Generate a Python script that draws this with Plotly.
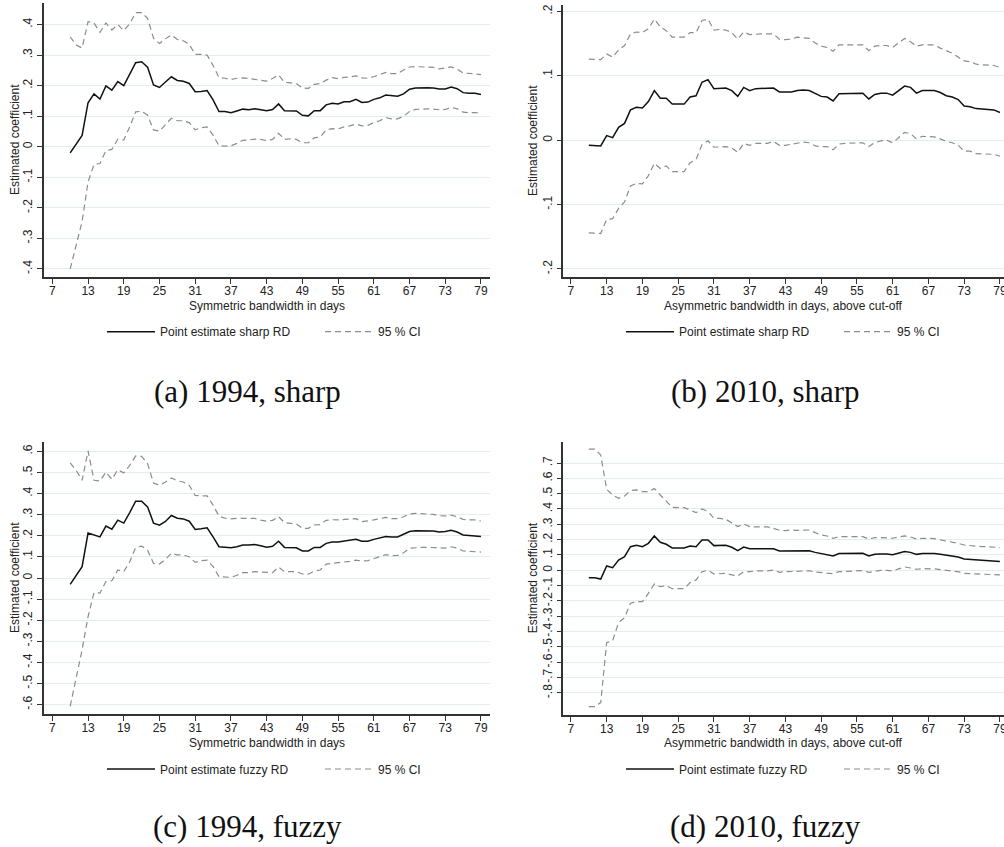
import plotly.graph_objects as go

# ---------------- data ----------------
BANDWIDTH = list(range(10, 80))  # 10 ... 79 days

A_POINT = [-0.020, 0.009, 0.037, 0.144, 0.173, 0.156, 0.199, 0.185, 0.213, 0.200,
           0.236, 0.275, 0.278, 0.260, 0.202, 0.194, 0.212, 0.229, 0.217, 0.214,
           0.207, 0.180, 0.181, 0.184, 0.153, 0.115, 0.115, 0.111, 0.117, 0.123,
           0.121, 0.124, 0.121, 0.118, 0.122, 0.140, 0.118, 0.117, 0.117, 0.103,
           0.101, 0.118, 0.118, 0.137, 0.142, 0.140, 0.147, 0.147, 0.155, 0.145,
           0.146, 0.155, 0.160, 0.169, 0.166, 0.165, 0.173, 0.188, 0.192, 0.193,
           0.193, 0.192, 0.189, 0.189, 0.195, 0.190, 0.177, 0.175, 0.175, 0.171]
A_UPPER = [0.360, 0.333, 0.323, 0.409, 0.405, 0.374, 0.405, 0.382, 0.400, 0.380,
           0.402, 0.439, 0.439, 0.420, 0.355, 0.338, 0.353, 0.366, 0.351, 0.347,
           0.335, 0.302, 0.302, 0.300, 0.266, 0.226, 0.224, 0.220, 0.224, 0.225,
           0.223, 0.221, 0.218, 0.215, 0.223, 0.235, 0.211, 0.208, 0.207, 0.192,
           0.191, 0.204, 0.207, 0.218, 0.226, 0.223, 0.227, 0.228, 0.232, 0.225,
           0.224, 0.229, 0.235, 0.243, 0.239, 0.239, 0.251, 0.261, 0.262, 0.262,
           0.261, 0.260, 0.255, 0.258, 0.261, 0.254, 0.241, 0.240, 0.239, 0.236]
A_LOWER = [-0.400, -0.320, -0.245, -0.115, -0.058, -0.055, -0.013, -0.009, 0.025, 0.022,
           0.065, 0.114, 0.116, 0.103, 0.055, 0.051, 0.071, 0.093, 0.085, 0.085,
           0.079, 0.055, 0.062, 0.065, 0.038, 0.003, 0.002, 0.003, 0.011, 0.021,
           0.022, 0.025, 0.024, 0.020, 0.024, 0.044, 0.024, 0.026, 0.024, 0.013,
           0.013, 0.029, 0.032, 0.055, 0.059, 0.058, 0.065, 0.068, 0.074, 0.068,
           0.070, 0.079, 0.085, 0.095, 0.091, 0.091, 0.100, 0.115, 0.122, 0.124,
           0.124, 0.123, 0.121, 0.122, 0.129, 0.124, 0.113, 0.111, 0.112, 0.109]

B_POINT = [-0.008, -0.008, -0.009, 0.007, 0.004, 0.020, 0.026, 0.047, 0.051, 0.050,
           0.060, 0.077, 0.065, 0.065, 0.056, 0.056, 0.056, 0.067, 0.069, 0.090,
           0.094, 0.080, 0.080, 0.081, 0.077, 0.068, 0.082, 0.077, 0.080, 0.080,
           0.080, 0.081, 0.075, 0.075, 0.075, 0.077, 0.078, 0.077, 0.072, 0.068,
           0.067, 0.061, 0.072, 0.072, 0.072, 0.072, 0.073, 0.064, 0.071, 0.073,
           0.073, 0.070, 0.077, 0.084, 0.082, 0.073, 0.077, 0.077, 0.077, 0.074,
           0.069, 0.067, 0.063, 0.053, 0.052, 0.049, 0.048, 0.048, 0.047, 0.043]
B_UPPER = [0.126, 0.126, 0.125, 0.134, 0.129, 0.140, 0.147, 0.165, 0.168, 0.167,
           0.173, 0.188, 0.176, 0.170, 0.160, 0.160, 0.160, 0.167, 0.167, 0.186,
           0.188, 0.171, 0.172, 0.171, 0.167, 0.157, 0.168, 0.164, 0.165, 0.165,
           0.165, 0.165, 0.157, 0.156, 0.157, 0.160, 0.159, 0.158, 0.151, 0.146,
           0.144, 0.138, 0.148, 0.148, 0.148, 0.148, 0.148, 0.139, 0.146, 0.147,
           0.147, 0.144, 0.151, 0.158, 0.153, 0.146, 0.148, 0.148, 0.148, 0.143,
           0.139, 0.135, 0.129, 0.123, 0.122, 0.118, 0.117, 0.117, 0.116, 0.113]
B_LOWER = [-0.144, -0.144, -0.145, -0.123, -0.122, -0.106, -0.096, -0.071, -0.067, -0.068,
           -0.055, -0.036, -0.044, -0.040, -0.049, -0.049, -0.049, -0.035, -0.030, -0.007,
           -0.001, -0.011, -0.011, -0.010, -0.012, -0.019, -0.005, -0.008, -0.005, -0.005,
           -0.005, -0.002, -0.008, -0.008, -0.006, -0.004, -0.003, -0.004, -0.009, -0.010,
           -0.010, -0.015, -0.006, -0.005, -0.005, -0.005, -0.004, -0.010, -0.004, -0.001,
           0.000, -0.004, 0.004, 0.012, 0.010, 0.002, 0.006, 0.006, 0.005, 0.002,
           -0.002, -0.004, -0.008, -0.017, -0.017, -0.021, -0.021, -0.021, -0.022, -0.025]

C_POINT = [-0.030, 0.011, 0.054, 0.213, 0.203, 0.195, 0.246, 0.231, 0.274, 0.260,
           0.310, 0.364, 0.364, 0.337, 0.260, 0.250, 0.268, 0.296, 0.283, 0.280,
           0.269, 0.230, 0.233, 0.238, 0.195, 0.148, 0.146, 0.143, 0.148, 0.156,
           0.156, 0.159, 0.153, 0.146, 0.150, 0.174, 0.145, 0.144, 0.143, 0.128,
           0.128, 0.145, 0.145, 0.164, 0.170, 0.170, 0.174, 0.177, 0.183, 0.174,
           0.174, 0.183, 0.191, 0.197, 0.194, 0.194, 0.207, 0.220, 0.224, 0.224,
           0.224, 0.223, 0.218, 0.220, 0.226, 0.218, 0.204, 0.201, 0.201, 0.197]
C_UPPER = [0.545, 0.510, 0.463, 0.602, 0.463, 0.460, 0.501, 0.468, 0.513, 0.498,
           0.534, 0.578, 0.576, 0.542, 0.450, 0.439, 0.455, 0.474, 0.460, 0.455,
           0.439, 0.391, 0.389, 0.389, 0.345, 0.293, 0.283, 0.280, 0.283, 0.283,
           0.282, 0.282, 0.274, 0.269, 0.273, 0.291, 0.262, 0.259, 0.256, 0.235,
           0.235, 0.251, 0.253, 0.273, 0.276, 0.275, 0.276, 0.278, 0.281, 0.267,
           0.270, 0.275, 0.281, 0.287, 0.281, 0.281, 0.290, 0.303, 0.306, 0.306,
           0.303, 0.301, 0.295, 0.294, 0.298, 0.290, 0.278, 0.275, 0.275, 0.270]
C_LOWER = [-0.608, -0.474, -0.340, -0.183, -0.069, -0.072, -0.017, -0.013, 0.038, 0.030,
           0.077, 0.145, 0.151, 0.132, 0.069, 0.066, 0.088, 0.117, 0.110, 0.109,
           0.101, 0.074, 0.082, 0.085, 0.054, 0.006, 0.003, 0.003, 0.013, 0.025,
           0.025, 0.030, 0.028, 0.025, 0.025, 0.052, 0.030, 0.030, 0.030, 0.019,
           0.018, 0.033, 0.038, 0.066, 0.069, 0.073, 0.077, 0.079, 0.085, 0.080,
           0.082, 0.090, 0.101, 0.111, 0.106, 0.107, 0.120, 0.141, 0.144, 0.145,
           0.145, 0.144, 0.141, 0.142, 0.148, 0.142, 0.128, 0.126, 0.126, 0.123]

D_POINT = [-0.048, -0.048, -0.057, 0.028, 0.017, 0.067, 0.089, 0.154, 0.163, 0.154,
           0.176, 0.224, 0.183, 0.170, 0.146, 0.146, 0.146, 0.159, 0.154, 0.198,
           0.198, 0.161, 0.161, 0.163, 0.150, 0.128, 0.152, 0.141, 0.141, 0.141,
           0.141, 0.141, 0.126, 0.126, 0.126, 0.128, 0.130, 0.128, 0.117, 0.109,
           0.104, 0.093, 0.109, 0.109, 0.109, 0.109, 0.111, 0.093, 0.104, 0.107,
           0.107, 0.102, 0.113, 0.122, 0.117, 0.104, 0.109, 0.109, 0.109, 0.104,
           0.098, 0.093, 0.087, 0.074, 0.072, 0.067, 0.065, 0.065, 0.063, 0.057]
D_UPPER = [0.791, 0.791, 0.752, 0.528, 0.491, 0.470, 0.485, 0.520, 0.524, 0.513,
           0.513, 0.533, 0.491, 0.448, 0.411, 0.409, 0.409, 0.393, 0.376, 0.400,
           0.385, 0.339, 0.339, 0.333, 0.307, 0.285, 0.302, 0.285, 0.283, 0.283,
           0.283, 0.274, 0.261, 0.259, 0.263, 0.261, 0.263, 0.263, 0.246, 0.230,
           0.224, 0.209, 0.220, 0.220, 0.220, 0.220, 0.220, 0.204, 0.213, 0.213,
           0.213, 0.209, 0.217, 0.224, 0.217, 0.204, 0.209, 0.209, 0.207, 0.198,
           0.191, 0.185, 0.176, 0.165, 0.161, 0.157, 0.154, 0.154, 0.152, 0.148]
D_LOWER = [-0.889, -0.889, -0.863, -0.472, -0.459, -0.341, -0.309, -0.215, -0.204, -0.204,
           -0.150, -0.089, -0.107, -0.100, -0.120, -0.120, -0.120, -0.080, -0.063, -0.009,
           0.000, -0.024, -0.020, -0.020, -0.030, -0.037, -0.009, -0.009, -0.004, -0.004,
           -0.004, 0.002, -0.013, -0.009, -0.009, -0.007, -0.004, -0.004, -0.011, -0.015,
           -0.017, -0.022, -0.009, -0.007, -0.007, -0.004, -0.002, -0.013, -0.004, 0.000,
           0.000, -0.004, 0.009, 0.022, 0.015, 0.007, 0.011, 0.011, 0.009, 0.004,
           0.000, -0.002, -0.009, -0.020, -0.022, -0.024, -0.024, -0.024, -0.026, -0.030]

X_TICKS = [7, 13, 19, 25, 31, 37, 43, 49, 55, 61, 67, 73, 79]
A_YTICKS = [-0.4, -0.3, -0.2, -0.1, 0.0, 0.1, 0.2, 0.3, 0.4]
B_YTICKS = [-0.2, -0.1, 0.0, 0.1, 0.2]
C_YTICKS = [-0.6, -0.5, -0.4, -0.3, -0.2, -0.1, 0.0, 0.1, 0.2, 0.3, 0.4, 0.5, 0.6]
D_YTICKS = [-0.8, -0.7, -0.6, -0.5, -0.4, -0.3, -0.2, -0.1, 0.0,
            0.1, 0.2, 0.3, 0.4, 0.5, 0.6, 0.7]

X_TITLES = ["Symmetric bandwidth in days",
            "Asymmetric bandwidth in days, above cut-off",
            "Symmetric bandwidth in days",
            "Asymmetric bandwidth in days, above cut-off"]
POINT_NAMES = ["Point estimate sharp RD", "Point estimate sharp RD",
               "Point estimate fuzzy RD", "Point estimate fuzzy RD"]
CI_NAME = "95 % CI"
CAPTIONS = ["(a) 1994, sharp", "(b) 2010, sharp", "(c) 1994, fuzzy", "(d) 2010, fuzzy"]
Y_TITLE = "Estimated coefficient"

# ---------------- layout geometry (pixels) ----------------
W, H = 1004, 847
SANS = "Liberation Sans, Arial, Helvetica, sans-serif"
SERIF = "Liberation Serif, Times New Roman, serif"


def fmt(v):
    s = f"{v:.1f}"
    if s in ("0.0", "-0.0"):
        return "0"
    return s.replace("0.", ".")


def px_x(p):
    return p / W


def px_y(p):
    return 1 - p / H


panels = [
    dict(point=A_POINT, up=A_UPPER, lo=A_LOWER, yt=A_YTICKS,
         xpx=(44, 490), ypx=(3, 277), xr=(5.60, 80.52), yr=(-0.4265, 0.4704),
         legy=331.7, legx=102, capx=247, capy=391.7, titley=305.5, ytitlex=15),
    dict(point=B_POINT, up=B_UPPER, lo=B_LOWER, yt=B_YTICKS,
         xpx=(563.3, 1004), ypx=(4.7, 277.3), xr=(5.72, 79.69), yr=(-0.2130, 0.2104),
         legy=331.7, legx=621, capx=765, capy=391.7, titley=305.5, ytitlex=533),
    dict(point=C_POINT, up=C_UPPER, lo=C_LOWER, yt=C_YTICKS,
         xpx=(44, 490), ypx=(441.7, 714.3), xr=(5.60, 80.52), yr=(-0.6457, 0.6457),
         legy=769, legx=102, capx=247, capy=826.7, titley=743, ytitlex=15),
    dict(point=D_POINT, up=D_UPPER, lo=D_LOWER, yt=D_YTICKS,
         xpx=(563.3, 1004), ypx=(441.7, 715), xr=(5.72, 79.69), yr=(-0.944, 0.839),
         legy=769, legx=621, capx=765, capy=826.7, titley=743, ytitlex=533),
]

fig = go.Figure()
layout = dict(
    width=W, height=H, margin=dict(l=0, r=0, t=0, b=0, autoexpand=False),
    paper_bgcolor="white", plot_bgcolor="white",
    font=dict(family=SANS, size=12, color="#222222"),
    annotations=[], showlegend=True,
)

for i, p in enumerate(panels):
    sfx = "" if i == 0 else str(i + 1)
    xa, ya = "x" + sfx, "y" + sfx
    leg = "legend" if i == 0 else "legend" + str(i + 1)

    fig.add_trace(go.Scatter(x=BANDWIDTH, y=p["point"], mode="lines", name=POINT_NAMES[i],
                             line=dict(color="#111111", width=1.5),
                             xaxis=xa, yaxis=ya, legend=leg, showlegend=True))
    fig.add_trace(go.Scatter(x=BANDWIDTH, y=p["up"], mode="lines", name=CI_NAME,
                             line=dict(color="#8c8c8c", width=1.2, dash="6px,4px"),
                             xaxis=xa, yaxis=ya, legend=leg, showlegend=True,
                             legendgroup="ci" + sfx))
    fig.add_trace(go.Scatter(x=BANDWIDTH, y=p["lo"], mode="lines", name=CI_NAME,
                             line=dict(color="#8c8c8c", width=1.2, dash="6px,4px"),
                             xaxis=xa, yaxis=ya, legend=leg, showlegend=False,
                             legendgroup="ci" + sfx))

    x0, x1 = p["xpx"]
    y0, y1 = p["ypx"]
    layout["xaxis" + sfx] = dict(
        domain=[px_x(x0), min(1.0, px_x(x1))], range=list(p["xr"]), anchor=ya,
        tickmode="array", tickvals=X_TICKS, ticktext=[str(t) for t in X_TICKS],
        ticks="outside", ticklen=5, tickwidth=1, tickcolor="#333333",
        showline=True, linecolor="#333333", linewidth=1.5,
        showgrid=False, zeroline=False, ticklabeloverflow="allow",
        ticklabelstandoff=-3,
        tickfont=dict(family=SANS, size=12, color="#222222"),
    )
    layout["yaxis" + sfx] = dict(
        domain=[px_y(y1), px_y(y0)], range=list(p["yr"]), anchor=xa,
        tickmode="array", tickvals=p["yt"], ticktext=[fmt(v) for v in p["yt"]],
        tickangle=-90, ticks="outside", ticklen=5, tickwidth=1, tickcolor="#333333",
        showline=True, linecolor="#333333", linewidth=1.5,
        showgrid=True, gridcolor="#e3edf0", gridwidth=1, zeroline=False,
        tickfont=dict(family=SANS, size=12, color="#222222"),
    )
    layout[leg] = dict(
        orientation="h", x=px_x(p["legx"]), xanchor="left",
        y=px_y(p["legy"]), yanchor="middle",
        font=dict(family=SANS, size=12, color="#222222"),
        bgcolor="rgba(0,0,0,0)", itemwidth=48, entrywidth=155,
    )
    layout["annotations"] += [
        dict(text=X_TITLES[i], xref="paper", yref="paper",
             x=px_x((x0 + min(x1, 1004 + 4)) / 2), y=px_y(p["titley"]),
             xanchor="center", yanchor="middle", showarrow=False,
             font=dict(family=SANS, size=12, color="#222222")),
        dict(text=Y_TITLE, xref="paper", yref="paper", textangle=-90,
             x=px_x(p["ytitlex"]), y=px_y((y0 + y1) / 2),
             xanchor="center", yanchor="middle", showarrow=False,
             font=dict(family=SANS, size=12, color="#222222")),
        dict(text=CAPTIONS[i], xref="paper", yref="paper",
             x=px_x(p["capx"]), y=px_y(p["capy"]),
             xanchor="center", yanchor="middle", showarrow=False,
             font=dict(family=SERIF, size=31, color="#111111")),
    ]

fig.update_layout(**layout)
fig.write_html("out.html")
